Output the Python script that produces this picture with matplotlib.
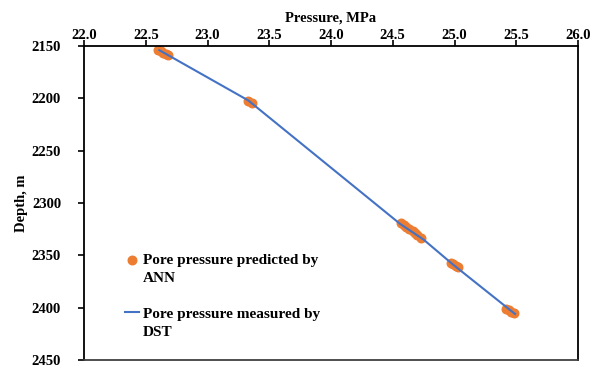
import matplotlib
matplotlib.use("Agg")
import matplotlib.pyplot as plt

# DST measurements (line)
dst_pressure = [22.61, 23.33, 24.56, 24.75, 24.99, 25.49]
dst_depth = [2154, 2202, 2320, 2335, 2359, 2406]

# ANN predictions (points)
ann_pressure = [22.60, 22.62, 22.64, 22.66, 22.68,
                23.33, 23.36,
                24.57, 24.59, 24.61, 24.63, 24.66, 24.68, 24.70, 24.73,
                24.97, 24.99, 25.01, 25.03,
                25.42, 25.44, 25.46, 25.48]
ann_depth = [2154, 2155, 2157, 2158, 2159,
             2203, 2204,
             2319, 2321, 2323, 2325, 2327, 2329, 2331, 2333,
             2357, 2358, 2360, 2361,
             2401, 2402, 2404, 2405]

x_ticks = [22.0, 22.5, 23.0, 23.5, 24.0, 24.5, 25.0, 25.5, 26.0]
y_ticks = [2150, 2200, 2250, 2300, 2350, 2400, 2450]

plt.rcParams['font.family'] = ['Liberation Serif', 'DejaVu Serif']
plt.rcParams['font.weight'] = 'bold'

fig = plt.figure(figsize=(6.01, 3.70), dpi=100)
ax = fig.add_axes([84/601, 1 - 360/370, 494/601, 314/370])

ax.scatter(ann_pressure, ann_depth, s=38, color='#ED7D31', zorder=2,
           label='Pore pressure predicted by')
ax.plot(dst_pressure, dst_depth, color='#4472C4', lw=1.5, zorder=3,
        label='Pore pressure measured by')

ax.set_xlim(22.0, 26.0)
ax.set_ylim(2450, 2150)
ax.set_xticks(x_ticks)
ax.set_xticklabels([f"{t:.1f}" for t in x_ticks])
ax.set_yticks(y_ticks)
ax.xaxis.tick_top()
ax.xaxis.set_label_position('top')
ax.set_xlabel('Pressure, MPa', fontsize=10.5, fontweight='bold', labelpad=5)
ax.set_ylabel('Depth, m', fontsize=10.5, fontweight='bold', labelpad=3)
ax.tick_params(axis='both', labelsize=10.5, direction='out', length=4.5,
               width=1.2, colors='black')
ax.tick_params(axis='x', pad=-1.5)
ax.tick_params(axis='y', pad=12)

for side in ['left', 'top', 'right']:
    ax.spines[side].set_linewidth(1.3)
    ax.spines[side].set_color('black')
ax.spines['bottom'].set_linewidth(1.3)
ax.spines['bottom'].set_color('#404040')

leg = ax.legend(loc='upper left', bbox_to_anchor=(0.083, 0.339), frameon=False,
                fontsize=11, handlelength=0.9, handletextpad=0.25,
                labelspacing=2.6, borderpad=0, borderaxespad=0,
                scatterpoints=1)
# second line of each legend label, placed under the first
for t, extra in zip(leg.get_texts(), ['ANN', 'DST']):
    t.set_fontweight('bold')
    ax.annotate(extra, xy=(0, 0), xycoords=t, xytext=(0, -3.5),
                textcoords='offset points', va='top', ha='left',
                fontsize=11, fontweight='bold', zorder=10)

plt.savefig("out.png", dpi=100)
